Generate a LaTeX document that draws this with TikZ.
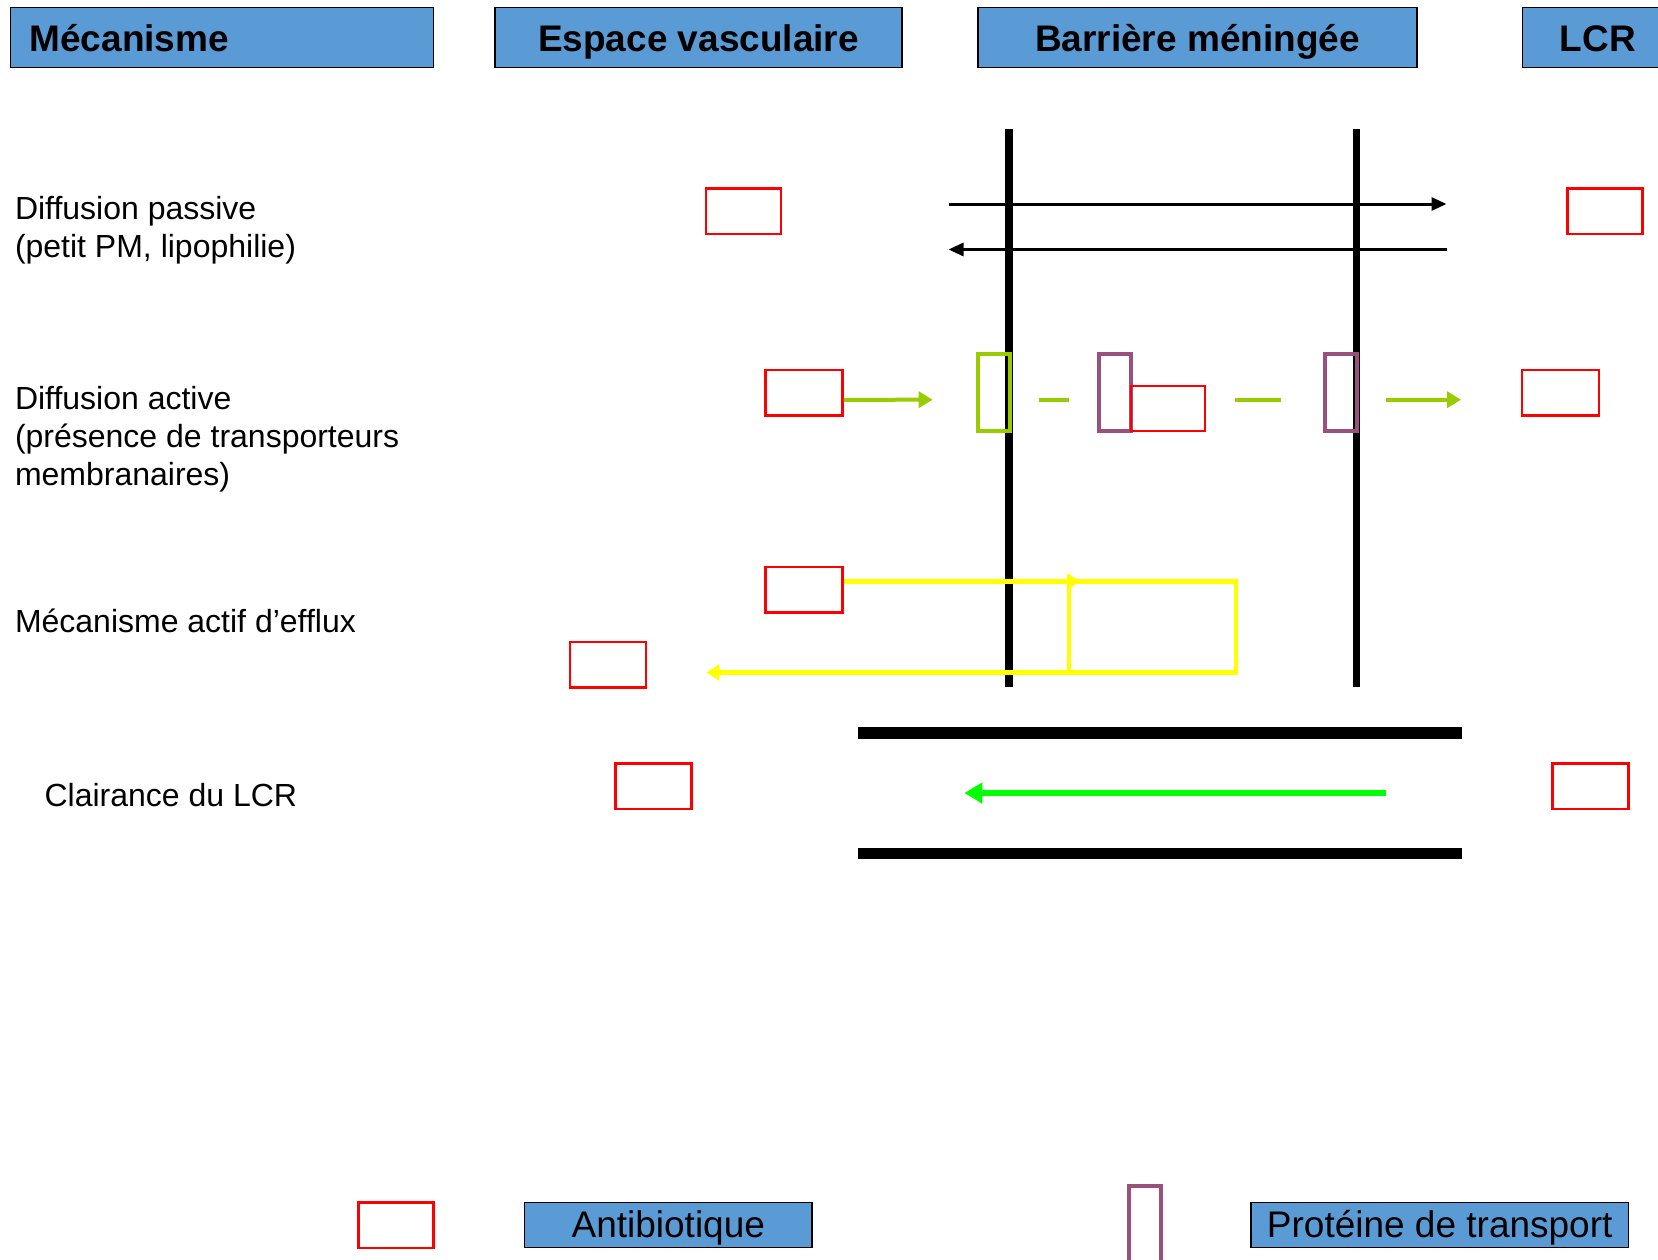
\documentclass[tikz,border=0pt]{standalone}
\usepackage{fontspec}
\setmainfont{Liberation Sans}
\usetikzlibrary{arrows.meta,calc}
\definecolor{hdrblue}{RGB}{91,155,213}
\definecolor{ygreen}{RGB}{153,204,0}
\definecolor{prot}{RGB}{153,80,122}
\definecolor{flgreen}{RGB}{0,255,0}
\definecolor{yel}{RGB}{255,255,0}
\begin{document}
\begin{tikzpicture}[x=1pt,y=-1pt,
  hdr/.style={draw=black,line width=1.5pt,fill=hdrblue,inner sep=0pt,minimum height=60pt,text height=34pt,text depth=5.6pt,font=\bfseries\fontsize{37}{44}\selectfont},
  leg/.style={draw=black,line width=1.5pt,fill=hdrblue,inner sep=0pt,minimum height=45.4pt,text height=30pt,text depth=5.6pt,font=\fontsize{37}{44}\selectfont},
  lbl/.style={anchor=west,align=left,inner sep=0pt,font=\fontsize{32}{38}\selectfont},
  abx/.style={draw=red,line width=2.5pt,minimum width=75pt,minimum height=45.5pt,inner sep=0pt},
  tbox/.style={line width=4pt,minimum width=32pt,minimum height=77.4pt,inner sep=0pt},
  membrane/.style={line width=7.4pt},
  passarrow/.style={line width=3pt,-{Triangle[length=15pt,width=13pt]}},
  garrow/.style={draw=ygreen,line width=4pt,-{Triangle[length=14pt,width=16pt]}},
  gdash/.style={draw=ygreen,line width=4pt},
  yarrow/.style={draw=yel,line width=4.2pt,-{Triangle[length=13pt,width=16pt]}},
  wall/.style={line width=11.6pt},
]
\useasboundingbox (0,0) rectangle (1658,1259);
\begin{scope}
\clip (0,0) rectangle (1658,1259);
% headers
\node[hdr,minimum width=423pt,text width=385pt,align=left,inner xsep=19pt] (hm) at (222,37.5) {Mécanisme};
\node[hdr,minimum width=407pt] (hv) at (698.5,37.5) {Espace vasculaire};
\node[hdr,minimum width=439pt] (hb) at (1197.5,37.5) {Barrière méningée};
\node[hdr,minimum width=151pt] (hl) at (1598,37.5) {LCR};

% membranes
\coordinate (m1t) at (1008.8,129); \coordinate (m1b) at (1008.8,687);
\coordinate (m2t) at (1356.7,129); \coordinate (m2b) at (1356.7,687);
\draw[membrane] (m1t) -- (m1b);
\draw[membrane] (m2t) -- (m2b);

% row 1 : passive diffusion
\node[lbl] (l1) at (14.8,230.2) {Diffusion passive\\(petit PM, lipophilie)};
\node[abx] (rb1) at (743.5,211) {};
\node[abx] (rb2) at (1605,211) {};
\coordinate (pa1) at (948.5,204); \coordinate (pa2) at (1446.5,204);
\coordinate (pb1) at (1446.5,249.5); \coordinate (pb2) at (948.5,249.5);
\draw[passarrow] (pa1) -- (pa2);
\draw[passarrow] (pb1) -- (pb2);

% row 2 : active diffusion
\node[lbl] (l2) at (14.8,438.8) {Diffusion active\\(présence de transporteurs\\membranaires)};
\node[abx,minimum width=77pt] (rb3) at (804,392.8) {};
\node[tbox,draw=ygreen] (gt) at (994,392.7) {};
\node[tbox,draw=prot] (pt1) at (1114.5,392.7) {};
\node[abx,minimum width=74pt,minimum height=45pt,line width=2pt,anchor=north west] (rb4) at (1130.4,385) {};
\node[tbox,draw=prot] (pt2) at (1341.3,392.7) {};
\node[abx,minimum width=77pt] (rb5) at (1560.7,392.8) {};
\coordinate (ga) at (932.6,399.7);
\draw[garrow] ([yshift=-7pt]rb3.east) -- (ga);
\coordinate (d1a) at (1039.4,399.7); \coordinate (d1b) at (1069,399.7);
\draw[gdash] (d1a) -- (d1b);
\coordinate (d2a) at (1235,399.7); \coordinate (d2b) at (1280.5,399.7);
\draw[gdash] (d2a) -- (d2b);
\coordinate (gb1) at (1386,399.7); \coordinate (gb2) at (1461,399.7);
\draw[garrow] (gb1) -- (gb2);

% row 3 : efflux
\node[lbl] (l3) at (14.8,620.7) {Mécanisme actif d’efflux};
\node[abx,minimum width=77pt] (rb6) at (804,589.5) {};
\node[draw=yel,line width=4.2pt,outer sep=0pt,minimum width=167pt,minimum height=91pt,inner sep=0pt] (yr) at (1152.5,627) {};
\node[abx,minimum width=76pt] (rb7) at (608,664.5) {};
\draw[yarrow] ([yshift=8pt]rb6.east) -- ([xshift=11pt]yr.north west);
\coordinate (ye) at (706.4,672.5);
\draw[yarrow] (yr.south west) -- (ye);

% row 4 : CSF clearance
\node[lbl] (l4) at (44.4,795) {Clairance du LCR};
\coordinate (w1a) at (857.5,732.8); \coordinate (w1b) at (1462.4,732.8);
\coordinate (w2a) at (857.5,853.3); \coordinate (w2b) at (1462.4,853.3);
\draw[wall] (w1a) -- (w1b);
\draw[wall] (w2a) -- (w2b);
\coordinate (ca) at (1386,793); \coordinate (cb) at (964.3,793);
\draw[draw=flgreen,line width=6.3pt,-{Triangle[length=18pt,width=20pt]}] (ca) -- (cb);
\node[abx,minimum width=76pt] (rb8) at (653.5,786.2) {};
\node[abx,minimum width=76pt] (rb9) at (1590.4,786.2) {};

% legend
\node[abx] (rb10) at (396,1225) {};
\node[leg,minimum width=287.5pt] (la) at (668.3,1225) {Antibiotique};
\node[tbox,draw=prot,minimum height=104pt,anchor=north] (pt3) at (1145.2,1184) {};
\node[leg,minimum width=377.4pt] (lp) at (1439.7,1225) {Protéine de transport};
\end{scope}
\end{tikzpicture}
\end{document}
